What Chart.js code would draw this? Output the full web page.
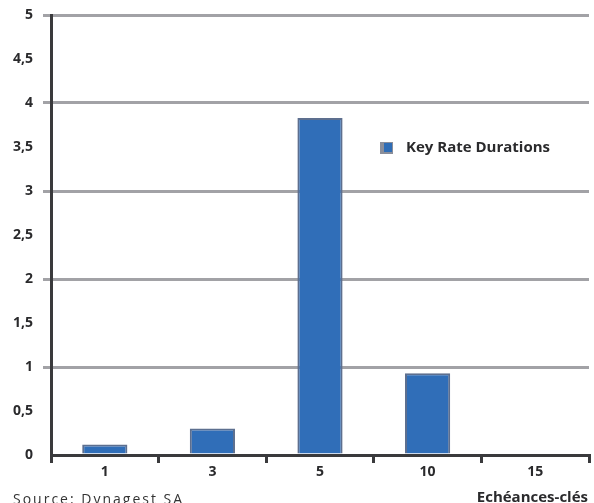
<!DOCTYPE html>
<html>
<head>
<meta charset="utf-8">
<script src="https://cdn.jsdelivr.net/npm/chart.js@4/dist/chart.umd.min.js"></script>
<style>
  html, body { margin: 0; padding: 0; background: #ffffff; }
  #wrap { width: 594px; height: 503px; position: relative; }
</style>
</head>
<body>
<div id="wrap"><canvas id="c" width="594" height="503"></canvas></div>
<script>
// Key rate durations by maturity bucket
const maturities = ['1', '3', '5', '10', '15'];
const keyRateDurations = [0.12, 0.3, 3.83, 0.93, 0];
const seriesName = 'Key Rate Durations';
const axisTitle = 'Echéances-clés';
const sourceNote = 'Source: Dynagest SA';

const FONT = '"Open Sans", "DejaVu Sans", sans-serif';
const DARK = '#3a3a3c';

// Legend and footer texts drawn on the canvas
const annotations = {
  id: 'annotations',
  afterDraw(chart) {
    const ctx = chart.ctx;
    const area = chart.chartArea;
    ctx.save();
    // legend swatch and label
    const lx = area.left + 329, ly = area.top + 133;
    ctx.fillStyle = '#8a8e9a';
    ctx.fillRect(lx, ly - 6, 13, 12);
    ctx.fillStyle = '#2f6db6';
    ctx.fillRect(lx + 4, ly - 5, 8, 9);
    ctx.fillStyle = '#2a2a2c';
    ctx.font = 'bold 15px ' + FONT;
    ctx.textBaseline = 'middle';
    ctx.textAlign = 'left';
    ctx.fillText(chart.data.datasets[0].label, lx + 26, ly);
    // axis title
    ctx.font = 'bold 15px ' + FONT;
    ctx.textAlign = 'right';
    ctx.textBaseline = 'alphabetic';
    ctx.fillText(axisTitle, 588, 502);
    // source
    ctx.font = '14px ' + FONT;
    ctx.textAlign = 'left';
    ctx.fillStyle = '#333333';
    if ('letterSpacing' in ctx) ctx.letterSpacing = '2px';
    ctx.fillText(sourceNote, 13, 504);
    ctx.restore();
  }
};

new Chart(document.getElementById('c'), {
  type: 'bar',
  data: {
    labels: maturities,
    datasets: [{
      label: seriesName,
      data: keyRateDurations,
      backgroundColor: '#306eb8',
      borderColor: '#5d6f8f',
      borderWidth: { left: 2, right: 2, top: 2, bottom: 0 },
      borderSkipped: 'bottom',
      barPercentage: 0.42,
      categoryPercentage: 1.0
    }]
  },
  options: {
    responsive: false,
    animation: false,
    devicePixelRatio: 1,
    layout: { padding: { top: 15, right: 5, left: 0, bottom: 0 } },
    plugins: {
      legend: { display: false },
      tooltip: { enabled: false }
    },
    scales: {
      x: {
        offset: true,
        grid: {
          offset: true,
          drawOnChartArea: false,
          drawTicks: true,
          tickLength: 8,
          color: DARK,
          lineWidth: 3
        },
        border: { display: true, color: DARK, width: 3 },
        ticks: {
          color: '#2a2a2c',
          font: { family: FONT, size: 14, weight: 'bold' },
          padding: 1
        },
        afterFit(scale) { scale.height = 48; }
      },
      y: {
        min: 0,
        max: 5,
        ticks: {
          stepSize: 0.5,
          color: '#2a2a2c',
          font: { family: FONT, size: 14, weight: 'bold', lineHeight: 0.5 },
          padding: 10,
          callback: (v) => String(v).replace('.', ',')
        },
        grid: {
          color: (c) => (c.tick && Number.isInteger(c.tick.value) && c.tick.value > 0) ? '#a2a2a6' : 'rgba(0,0,0,0)',
          lineWidth: 3,
          tickLength: 8
        },
        border: { display: true, color: DARK, width: 3 },
        afterFit(scale) { scale.width = 51; }
      }
    }
  },
  plugins: [annotations]
});
</script>
</body>
</html>
